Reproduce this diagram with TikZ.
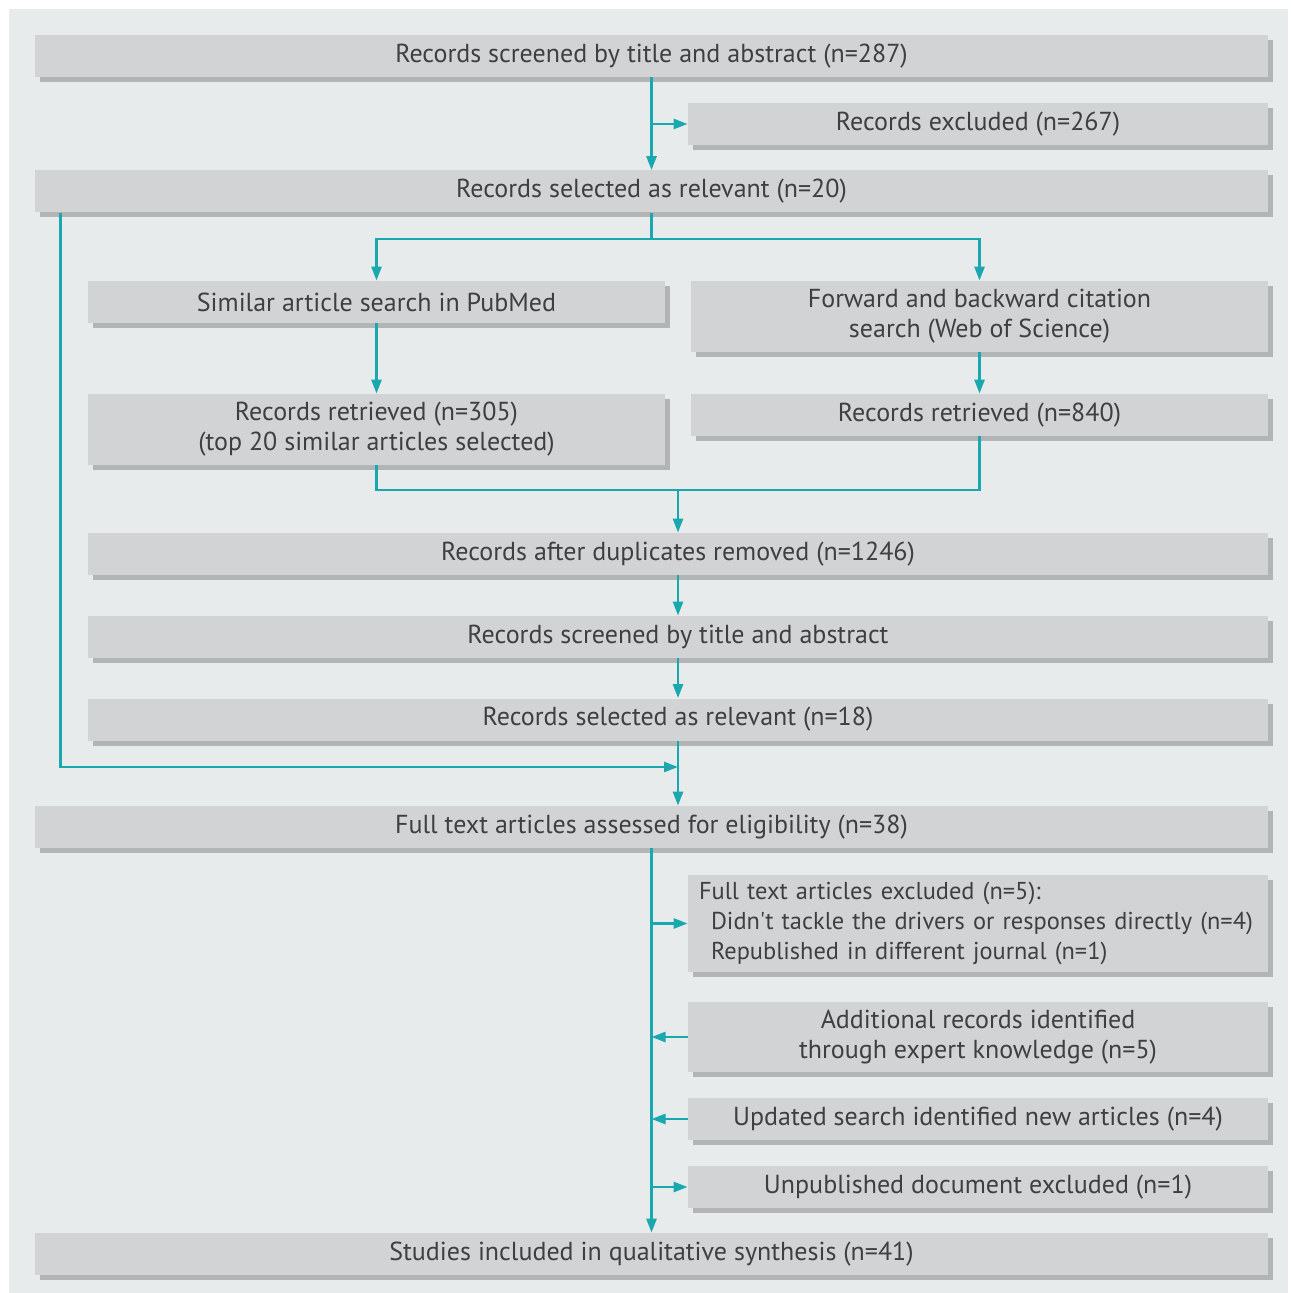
\documentclass[tikz,border=0pt]{standalone}
\usepackage{fontspec}
\setmainfont{PT Sans}
\usetikzlibrary{positioning,shadows,arrows.meta}
\definecolor{bggray}{HTML}{E8EBEB}
\definecolor{boxgray}{HTML}{D1D3D4}
\definecolor{shadegray}{HTML}{B2B4B5}
\definecolor{linkteal}{HTML}{1AA8AF}
\definecolor{txtgray}{HTML}{3E3F40}

\begin{document}
\begin{tikzpicture}[x=0.5pt,y=-0.5pt,
  box/.style={fill=boxgray,text=txtgray,font=\fontsize{13}{15}\selectfont,
    inner sep=0pt,align=center,minimum height=21pt,
    drop shadow={shadow xshift=2.5pt,shadow yshift=-2.5pt,fill=shadegray,opacity=1}},
  link/.style={linkteal,line width=1.3pt,-{Triangle[length=7pt,width=5pt]}},
  plain/.style={linkteal,line width=1.3pt}]
\useasboundingbox (0,0) rectangle (1290,1293);
\fill[white] (0,0) rectangle (1290,1293);
\fill[bggray] (9,9) rectangle (1288,1293);

% first search
\node[box,minimum width=616.5pt] (scr1) at (651.5,56) {Records screened by title and abstract (n=287)};
\node[box,minimum width=290pt] (excl) at (978,124) {Records excluded (n=267)};
\node[box,minimum width=616.5pt] (sel) at (651.5,191.5) {Records selected as relevant (n=20)};

% citation searches
\node[box,minimum width=288.5pt] (pubmed) at (376.5,302) {Similar article search in PubMed};
\node[box,minimum width=288.5pt,minimum height=35.5pt] (wos) at (979.5,316.5) {Forward and backward citation\\search (Web of Science)};
\node[box,minimum width=288.5pt,minimum height=35.5pt] (ret305) at (376.5,429.5) {Records retrieved (n=305)\\(top 20 similar articles selected)};
\node[box,minimum width=288.5pt] (ret840) at (979.5,415) {Records retrieved (n=840)};

\node[box,minimum width=590pt] (dup) at (678,554) {Records after duplicates removed (n=1246)};
\node[box,minimum width=590pt] (scr2) at (678,637) {Records screened by title and abstract};
\node[box,minimum width=590pt] (sel18) at (678,719.5) {Records selected as relevant (n=18)};

% eligibility
\node[box,minimum width=616.5pt] (full) at (651.5,827) {Full text articles assessed for eligibility (n=38)};
\node[box,font=\fontsize{12.2}{15}\selectfont,text width=279pt,inner xsep=5.5pt,minimum height=48.5pt,align=left] (ftex) at (978,923.5) {Full text articles excluded (n=5):\\
  \hspace*{6pt}Didn\textquotesingle t tackle the drivers or responses directly (n=4)\\
  \hspace*{6pt}Republished in different journal (n=1)};
\node[box,minimum width=290pt,minimum height=35pt] (add) at (978,1037) {Additional records identified\\through expert knowledge (n=5)};
\node[box,minimum width=290pt] (upd) at (978,1119) {Updated search identified new articles (n=4)};
\node[box,minimum width=290pt] (unp) at (978,1187) {Unpublished document excluded (n=1)};
\node[box,minimum width=616.5pt] (incl) at (651.5,1254) {Studies included in qualitative synthesis (n=41)};

\coordinate (merge) at (678,490);
\coordinate (join) at (678,767);

\draw[link] (scr1.south) -- (sel.north);
\draw[link] (scr1.south |- excl.west) -- (excl.west);
\draw[link] (sel.south) -- +(0,26) -| (pubmed.north);
\draw[link] (sel.south) -- +(0,26) -| (wos.north);
\draw[link] (pubmed.south) -- (ret305.north);
\draw[link] (wos.south) -- (ret840.north);
\draw[plain] (ret305.south) |- (merge) -| (ret840.south);
\draw[link] (merge) -- (dup.north);
\draw[link] (dup.south) -- (scr2.north);
\draw[link] (scr2.south) -- (sel18.north);
\draw[link] (sel18.south) -- (sel18.south |- full.north);
\draw[link] ([xshift=13pt]sel.south west) |- (join);
\draw[link] (full.south) -- (incl.north);
\draw[link] (full.south |- ftex.west) -- (ftex.west);
\draw[link] (add.west) -- (full.south |- add.west);
\draw[link] (upd.west) -- (full.south |- upd.west);
\draw[link] (full.south |- unp.west) -- (unp.west);
\end{tikzpicture}
\end{document}
